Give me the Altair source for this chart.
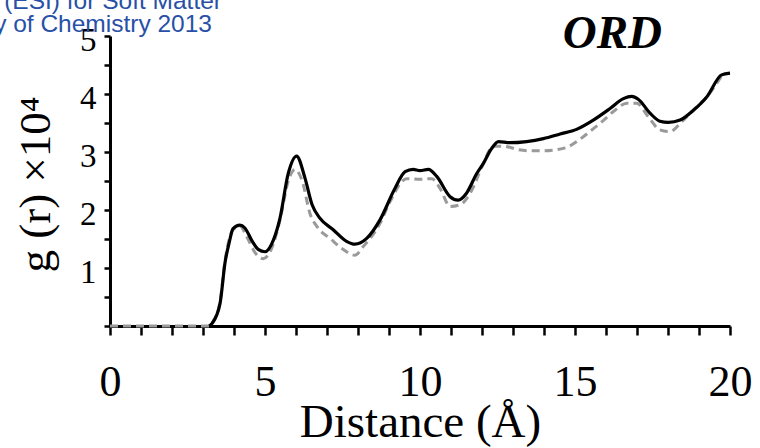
import altair as alt
import pandas as pd

# Solid black curve
distance_solid = [3.2, 3.3, 3.55, 3.71, 3.85, 3.97, 4.19, 4.35, 4.6, 4.78, 5.0, 5.27, 5.48, 5.75,
                  6.02, 6.29, 6.52, 6.77, 7.2, 7.63, 7.9, 8.28, 8.71, 9.19, 9.52, 9.78, 10.0,
                  10.27, 10.54, 10.97, 11.23, 11.5, 11.83, 12.04, 12.31, 12.53, 12.9, 13.44,
                  13.98, 14.52, 15.05, 15.59, 16.13, 16.56, 16.83, 17.04, 17.42, 17.74, 18.01,
                  18.39, 18.82, 19.25, 19.73, 20.0]
gr_solid = [0.0, 0.05, 0.39, 1.09, 1.45, 1.68, 1.74, 1.69, 1.45, 1.32, 1.28, 1.48, 1.85, 2.63,
            2.93, 2.55, 2.09, 1.86, 1.66, 1.46, 1.41, 1.51, 1.83, 2.37, 2.66, 2.70, 2.68,
            2.70, 2.58, 2.23, 2.17, 2.29, 2.63, 2.80, 3.06, 3.18, 3.16, 3.18,
            3.23, 3.31, 3.39, 3.55, 3.75, 3.92, 3.96, 3.91, 3.67, 3.53, 3.51,
            3.55, 3.72, 3.95, 4.33, 4.36]

# Dashed grey curve
distance_dashed = [0.0, 3.25, 3.3, 3.55, 3.71, 3.97, 4.2, 4.4, 4.7, 4.94, 5.2, 5.48, 5.75, 5.97,
                   6.2, 6.45, 6.71, 7.1, 7.47, 7.9, 8.17, 8.71, 9.03, 9.57, 10.0, 10.38, 10.65,
                   10.97, 11.29, 11.67, 12.0, 12.37, 12.7, 13.17, 13.55, 13.98, 14.41, 14.78,
                   15.16, 15.54, 15.91, 16.29, 16.67, 16.99, 17.36, 17.74, 18.06, 18.44, 18.87,
                   19.25, 19.8]
gr_dashed = [0.0, 0.0, 0.05, 0.42, 1.12, 1.66, 1.72, 1.55, 1.25, 1.16, 1.32, 1.82, 2.5, 2.70,
             2.5, 1.94, 1.69, 1.51, 1.34, 1.22, 1.37, 1.77, 2.14, 2.54, 2.53, 2.54, 2.37,
             2.06, 2.09, 2.34, 2.75, 3.10, 3.10, 3.04, 3.02, 3.02, 3.04, 3.09,
             3.22, 3.38, 3.54, 3.72, 3.84, 3.84, 3.61, 3.38, 3.35, 3.52, 3.75,
             3.95, 4.37]

x_ticks = list(range(0, 21))
y_ticks = [i * 0.5 for i in range(11)]

panel_label = "ORD"
watermark_line1 = "Electronic Supplementary Material (ESI) for Soft Matter"
watermark_line2 = "This journal is © The Royal Society of Chemistry 2013"

solid = pd.DataFrame({"d": distance_solid, "g": gr_solid})
dashed = pd.DataFrame({"d": distance_dashed, "g": gr_dashed})

SERIF = "Liberation Serif"

x_enc = alt.X(
    "d:Q",
    scale=alt.Scale(domain=[0, 20], nice=False, zero=False),
    axis=alt.Axis(
        values=x_ticks,
        labelExpr="datum.value % 5 === 0 ? format(datum.value, 'd') : ''",
        grid=False,
        domainColor="black", domainWidth=3,
        tickColor="black", tickWidth=2.5, tickSize=9,
        labelFont=SERIF, labelFontSize=44, labelColor="black",
        labelBaseline="alphabetic", labelPadding=60,
        labelOverlap=False, labelFlush=False,
        titleFont=SERIF, titleFontSize=47, titleFontWeight="normal", titleColor="black",
        titleBaseline="alphabetic", titleY=110, titleX=310, titleAlign="center",
    ),
    title="Distance (Å)",
)
y_enc = alt.Y(
    "g:Q",
    scale=alt.Scale(domain=[0, 5], nice=False),
    axis=alt.Axis(
        values=y_ticks,
        labelExpr="(datum.value >= 1 && datum.value % 1 === 0) ? format(datum.value, 'd') : ''",
        grid=False,
        domainColor="black", domainWidth=3,
        tickColor="black", tickWidth=2.5, tickSize=6,
        labelFont=SERIF, labelFontSize=33, labelColor="black",
        labelPadding=8, labelBaseline="middle", labelOffset=4,
        labelOverlap=False, labelFlush=False,
        titleFont=SERIF, titleFontSize=45, titleFontWeight="normal", titleColor="black",
        titleAngle=-90, titleBaseline="alphabetic", titleAlign="center",
        titleX=-61, titleY=148,
    ),
    title="g (r) ×10⁴",
)

dashed_line = alt.Chart(dashed).mark_line(
    color="#9a9a9a", strokeWidth=3, strokeDash=[8, 5], interpolate="monotone"
).encode(x=x_enc, y=y_enc)

solid_line = alt.Chart(solid).mark_line(
    color="black", strokeWidth=3.2, interpolate="monotone"
).encode(x=x_enc, y=y_enc)

label_ord = alt.Chart(pd.DataFrame({"t": [panel_label]})).mark_text(
    font=SERIF, fontSize=47, fontStyle="italic", fontWeight="bold", color="black",
    align="right", baseline="alphabetic"
).encode(text="t:N", x=alt.value(552), y=alt.value(12))

wm1 = alt.Chart(pd.DataFrame({"t": [watermark_line1]})).mark_text(
    font="Liberation Sans", fontSize=24.5, color="#2850a6", align="right", baseline="alphabetic"
).encode(text="t:N", x=alt.value(112), y=alt.value(-27))

wm2 = alt.Chart(pd.DataFrame({"t": [watermark_line2]})).mark_text(
    font="Liberation Sans", fontSize=24.5, color="#2850a6", align="right", baseline="alphabetic"
).encode(text="t:N", x=alt.value(102), y=alt.value(-4))

chart = alt.layer(dashed_line, solid_line, label_ord, wm1, wm2).properties(
    width=620,
    height=290,
    autosize=alt.AutoSizeParams(type="none"),
    padding={"left": 110, "top": 36, "right": 30, "bottom": 122},
    background="white",
).configure_view(stroke=None)

chart.save("out.html", embed_options={"renderer": "svg", "actions": False})
